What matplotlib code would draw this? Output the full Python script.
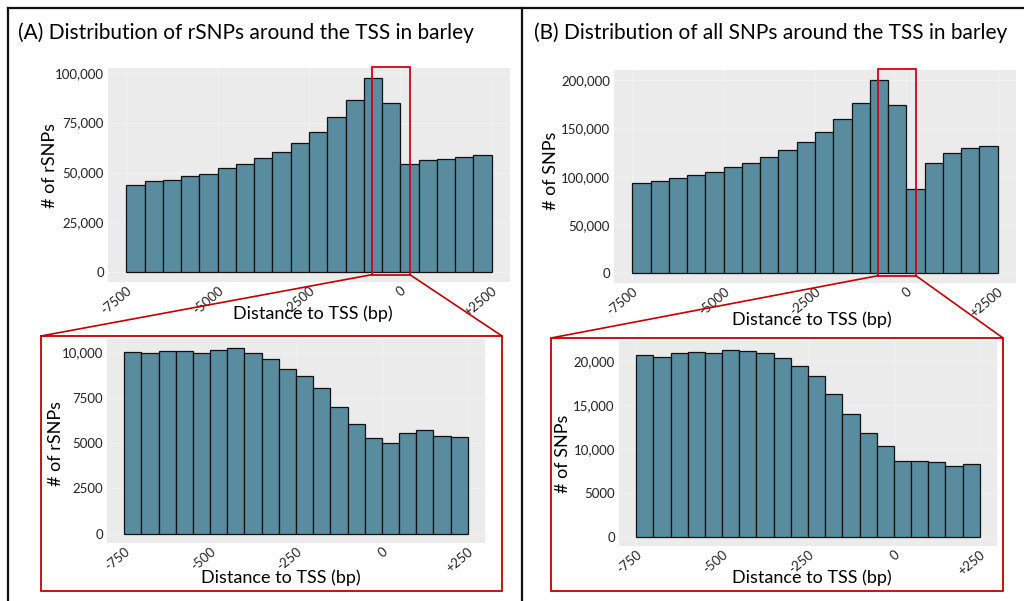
import matplotlib.pyplot as plt
from matplotlib.patches import Rectangle, ConnectionPatch
from matplotlib.ticker import FuncFormatter
import numpy as np

plt.rcParams['font.family'] = ['Lato', 'DejaVu Sans']

# histogram counts, 500 bp bins from -7500 to +2500
wide_edges = np.arange(-7500, 2501, 500)
rsnp_wide = [43500, 45700, 46100, 48200, 49100, 52300, 54500, 57300, 60500, 65000,
             70500, 77600, 86300, 97500, 84900, 54500, 56100, 56800, 58000, 59000]
snp_wide = [93100, 96200, 98300, 101400, 104500, 110000, 114800, 120700, 127600, 136500,
            146900, 160300, 176900, 200700, 174500, 87900, 114800, 124800, 129600, 131700]

# 50 bp bins from -750 to +250
narrow_edges = np.arange(-750, 251, 50)
rsnp_narrow = [10040, 9965, 10070, 10070, 10000, 10130, 10240, 9965, 9670, 9120,
               8735, 8040, 6970, 6040, 5285, 4990, 5560, 5745, 5395, 5320]
snp_narrow = [20760, 20460, 20910, 21030, 20910, 21250, 21180, 20990, 20380, 19430,
              18290, 16270, 13950, 11790, 10380, 8670, 8590, 8480, 8020, 8250]

wide_ticks = [-7500, -5000, -2500, 0, 2500]
wide_labels = ['-7500', '-5000', '-2500', '0', '+2500']
narrow_ticks = [-750, -500, -250, 0, 250]
narrow_labels = ['-750', '-500', '-250', '0', '+250']
zoom_window = (-770, 260)

W, H = 1024, 601
fig = plt.figure(figsize=(W / 100, H / 100), dpi=100)

BAR = '#5a8c9f'
PANEL_BG = '#ebebeb'


def px_axes(l, t, r, b):
    return fig.add_axes([l / W, 1 - b / H, (r - l) / W, (b - t) / H])


def comma(v, pos):
    return f'{int(v):,}'


def small_plain(v, pos):
    # four-digit counts are printed without a separator
    return f'{int(v):,}' if v >= 10000 else f'{int(v)}'


def hist_panel(ax, edges, counts, ticks, labels, yticks, fmt):
    counts = np.asarray(counts)
    widths = np.diff(edges)
    ax.bar(edges[:-1], counts, width=widths, align='edge', color=BAR,
           edgecolor='#111111', linewidth=0.9, zorder=3)
    span = edges[-1] - edges[0]
    ax.set_xlim(edges[0] - 0.05 * span, edges[-1] + 0.05 * span)
    top = counts.max()
    ax.set_ylim(-0.05 * top, 1.05 * top)
    ax.set_facecolor(PANEL_BG)
    for s in ax.spines.values():
        s.set_visible(False)
    ax.set_xticks(ticks)
    ax.set_xticklabels(labels, rotation=40, ha='right', va='top',
                       rotation_mode='anchor', fontsize=9.5, color='#222222')
    ax.set_yticks(yticks)
    ax.yaxis.set_major_formatter(FuncFormatter(fmt))
    ax.tick_params(axis='both', length=0, pad=3, labelsize=9.5, labelcolor='#222222')
    ax.tick_params(axis='x', pad=2)
    ax.grid(True, color='white', linewidth=0.8, alpha=0.3, zorder=0)
    ax.set_axisbelow(True)


def zoom_links(ax_top, ymax, box):
    l, t, r, b = box
    x0, x1 = zoom_window
    ax_top.add_patch(Rectangle((x0, -0.012 * ymax), x1 - x0, 1.068 * ymax,
                               fill=False, edgecolor='#d0021b', linewidth=1.3,
                               clip_on=False, zorder=5))
    fig.add_artist(Rectangle((l / W, 1 - b / H), (r - l) / W, (b - t) / H,
                             transform=fig.transFigure, fill=False,
                             edgecolor='#c00000', linewidth=1.3))
    for xd, xb in ((x0, l), (x1, r)):
        fig.add_artist(ConnectionPatch(xyA=(xd, -0.012 * ymax), coordsA=ax_top.transData,
                                       xyB=(xb / W, 1 - t / H), coordsB=fig.transFigure,
                                       color='#c00000', linewidth=1.2))


# panel A
axA = px_axes(108, 68, 510, 282)
hist_panel(axA, wide_edges, rsnp_wide, wide_ticks, wide_labels,
           [0, 25000, 50000, 75000, 100000], comma)
axA2 = px_axes(107, 339, 485, 543)
hist_panel(axA2, narrow_edges, rsnp_narrow, narrow_ticks, narrow_labels,
           [0, 2500, 5000, 7500, 10000], small_plain)
zoom_links(axA, max(rsnp_wide), (41, 336, 502, 591))

# panel B
axB = px_axes(614, 70, 1016, 283)
hist_panel(axB, wide_edges, snp_wide, wide_ticks, wide_labels,
           [0, 50000, 100000, 150000, 200000], comma)
axB2 = px_axes(619, 341, 997, 546)
hist_panel(axB2, narrow_edges, snp_narrow, narrow_ticks, narrow_labels,
           [0, 5000, 10000, 15000, 20000], small_plain)
zoom_links(axB, max(snp_wide), (551, 338, 1003, 591))

# titles and axis labels
fig.text(18 / W, 1 - 33 / H, '(A) Distribution of rSNPs around the TSS in barley',
         fontsize=15, ha='left', va='center')
fig.text(534 / W, 1 - 33 / H, '(B) Distribution of all SNPs around the TSS in barley',
         fontsize=15, ha='left', va='center')

for x, y in ((313, 314), (281, 578), (812, 320), (812, 578)):
    fig.text(x / W, 1 - y / H, 'Distance to TSS (bp)', fontsize=13, ha='center', va='center')
for x, y, s in ((50, 166, '# of rSNPs'), (56, 444, '# of rSNPs'),
                (551, 171, '# of SNPs'), (563, 454, '# of SNPs')):
    fig.text(x / W, 1 - y / H, s, fontsize=13, ha='center', va='center', rotation=90)

# outer frame and divider
frame = dict(color='#111111', linewidth=1.6, transform=fig.transFigure)
fig.add_artist(plt.Line2D([8 / W, 8 / W], [0, 1 - 8 / H], **frame))
fig.add_artist(plt.Line2D([8 / W, 1], [1 - 8 / H, 1 - 8 / H], **frame))
fig.add_artist(plt.Line2D([522 / W, 522 / W], [0, 1 - 8 / H], **frame))

fig.savefig('out.png', dpi=100)
